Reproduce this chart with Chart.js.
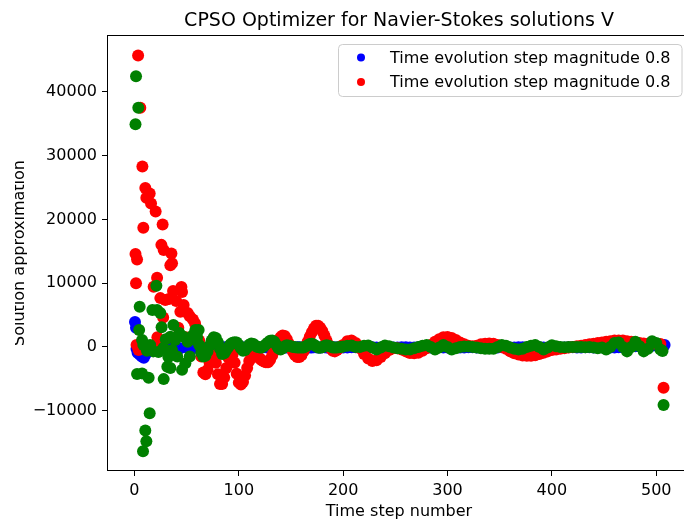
<!DOCTYPE html>
<html>
<head>
<meta charset="utf-8">
<title>CPSO Optimizer</title>
<script src="https://cdn.jsdelivr.net/npm/chart.js@4.4.1/dist/chart.umd.min.js"></script>
<style>
  html, body { margin: 0; padding: 0; background: #fff; overflow: hidden; }
  #wrap { width: 684px; height: 524px; overflow: hidden; position: relative; }
  #chart { display: block; }
</style>
</head>
<body>
<div id="wrap"><canvas id="chart" width="700" height="524"></canvas></div>
<script>
/* chart values */

const chartTitle   = 'CPSO Optimizer for Navier-Stokes solutions V';
const xAxisTitle   = 'Time step number';
const yAxisTitle   = 'Solution approximation';
const seriesLabels = ['Time evolution step magnitude 0.8', 'Time evolution step magnitude 0.8'];

const xTicks = [0, 100, 200, 300, 400, 500];
const yTicks = [-10000, 0, 10000, 20000, 30000, 40000];

// shared time steps of the dense band
const bandX = [
  56, 58, 60, 62, 64, 66, 68, 70, 72, 74,
  76, 78, 80, 82, 84, 86, 88, 90, 92, 94,
  96, 98, 100, 102, 104, 106, 108, 110, 112, 114,
  116, 118, 120, 122, 124, 126, 128, 130, 132, 134,
  136, 138, 140, 142, 144, 146, 148, 150, 152, 154,
  156, 158, 160, 162, 164, 166, 168, 170, 172, 174,
  176, 178, 180, 182, 184, 186, 188, 190, 192, 194,
  196, 198, 200,
  204, 208, 212, 216, 220, 224, 228, 232, 236, 240,
  244, 248, 252, 256, 260, 264, 268, 272, 276, 280,
  284, 288, 292, 296, 300, 304, 308, 312, 316, 320,
  324, 328, 332, 336, 340, 344, 348, 352, 356, 360,
  364, 368, 372, 376, 380, 384, 388, 392, 396, 400,
  404, 408, 412, 416, 420, 424, 428, 432, 436, 440,
  444, 448, 452, 456, 460, 464, 468, 472, 476, 480,
  484, 488, 492, 496, 500, 504
];

const redBand = [
  4300, 3700, 2800, 1000, -1500, -4000, -4300, -3600, -2500, -1400,
  -1300, -2500, -4300, -5800, -5800, -4800, -3300, -1700, -900, -1200,
  -2500, -4200, -5600, -5900, -5500, -4500, -3300, -2200, -1600, -1300,
  -1300, -1500, -1800, -2100, -2300, -2400, -2400, -2000, -1300, -500,
  300, 1000, 1500, 1800, 1700, 1200, 500, -200, -800, -1300,
  -1600, -1600, -1300, -700, 0, 800, 1600, 2300, 2900, 3300,
  3300, 3000, 2500, 1800, 1000, 300, -200, -600, -700, -500,
  -200, 100, 300,
  900, 1000, 600, -200, -1100, -1800, -2200, -2100, -1600, -1000,
  -500, -200, -200, -400, -700, -950, -1000, -900, -600, -200,
  300, 800, 1200, 1500, 1550, 1400, 1100, 700, 400, 200,
  100, 200, 400, 500, 550, 500, 300, 0, -300, -700,
  -1000, -1200, -1350, -1400, -1400, -1300, -1100, -900, -700, -500,
  -400, -300, -200, -100, 0, 100, 200, 300, 400, 500,
  600, 700, 800, 900, 1000, 1000, 1000, 900, 800, 700,
  600, 550, 500, 500, 500, 450
];

const greenBand = [
  1800, 2200, 1500, 300, -900, -1500, -1400, -700, 200, 1000,
  1500, 1400, 700, -300, -1100, -1000, -500, 0, 400, 650,
  750, 700, 300, -200, -600, -500, -100, 350, 550, 450,
  200, 0, -100, -100, 100, 400, 700, 950, 1000, 800,
  300, -200, -400, -200, 100, 250, 200, 100, 0, -50,
  -100, -100, -100, -100, 50, 250, 450, 500, 350, 100,
  -100, -150, -50, 150, 250, 200, 50, -100, -100, -100,
  -50, 0, 50,
  200, 230, 0, 0, 200, 230, -100, -400, -100, 230,
  100, -100, -200, -300, -400, -400, -200, 0, 200, 300,
  0, -400, -100, 300, 0, -400, -200, 0, 50, 50,
  0, -100, -200, -300, -300, -300, 0, 300, 200, -100,
  -300, -400, -300, 0, 200, 300, 0, -400, -100, 250,
  100, 0, -50, 0, 0, 0, 0, -50, 0, -100,
  -200, -100, -400, 0, 600, 700, 0, -700, 0, 800,
  100, -700, -300, 900, 600, -400
];

const blueBand = [
  -200, -150, -100, -50, 0, -100, -200, -150, -100, -50,
  0, -50, -100, -150, -100, -50, -100, -100, -50, -100,
  -150, -100, -50, -50, -100, -100, -50, -50, -100, -100,
  -50, -50, -100, -100, -50, -50, -100, -100, -50, -50,
  -100, -100, -50, -50, -100, -100, -50, -50, -100, -100,
  -50, -50, -100, -100, -50, -50, -100, -100, -50, -50,
  -100, -100, -50, -50, -100, -100, -50, -50, -100, -100,
  -50, -50, -100,
  -100, -50, -50, -100, -100, -50, -50, -100, -100, -50,
  -50, -100, -100, -50, -50, -100, -100, -50, -50, -100,
  -100, -50, -50, -100, -100, -50, -50, -100, -100, -50,
  -50, -100, -100, -50, -50, -100, -100, -50, -50, -100,
  -100, -50, -50, -100, -100, -50, -50, -100, -100, -50,
  -50, -100, -100, -50, -50, -100, -100, -50, -50, -100,
  -100, -50, -50, -100, -100, -50, -50, 0, 50, 100,
  100, 150, 200, 200, 250, 300
];

// scattered early steps and the last outliers
const redEarlyX = [
  1, 1.5, 2, 2.5, 3.5, 4, 5.6, 7.6, 8.5, 10.4,
  11.4, 14.6, 15.9, 18.4, 20.3, 21.7, 22, 24.8, 25, 25.8,
  27, 27.5, 28, 29.6, 33, 34.4, 35.4, 36, 37, 40,
  42, 44, 45, 45.6, 47.1, 49, 51, 53, 507
];
const redEarlyY = [
  14550, 10000, 300, 13700, 45700, -500, 37500, 28300, 18700, 24900,
  23400, 24050, 22500, 9450, 21250, 10850, 1500, 7650, 0, 16000,
  19200, 4600, 15200, 7350, 7500, 12800, 14650, 13100, 8750, 7200,
  3000, 5520, 9400, 8600, 6560, 1500, 5300, 4800, -6400
];

const greenEarlyX = [
  1, 1.5, 2.5, 3.7, 4.5, 5, 7.3, 7.3, 8.2, 8.5,
  10.4, 11.4, 12, 13.6, 14.6, 15, 17.2, 18, 21, 21.7,
  23, 24.8, 26, 27.7, 28, 30, 31.5, 32.5, 34.4, 34.4,
  36, 37.3, 39, 41, 43, 45.6, 47, 48.8, 51, 53,
  55, 58.4, 61.5, 506, 507
];
const greenEarlyY = [
  34900, 42450, -4250, 37500, 2650, 6300, 1100, -4150, -16350, 300,
  -13100, -14800, -600, -4850, -10400, 300, 5800, -700, 9600, 5800,
  -800, 5300, 3100, -150, -5050, 1200, -3100, -1600, -3300, 1600,
  -500, 3450, 1100, -1500, 2200, -3600, 1600, -2550, 800, -1500,
  1200, 2650, 2650, -650, -9100
];

const blueEarlyX = [0.5, 1.5, 2, 3, 5, 7, 9, 11, 14, 20, 26, 32, 38, 44, 50, 508];
const blueEarlyY = [3900, 3000, -300, -900, -1200, -1500, -1700, -1100, -300, -100, 0, -100, -100, -200, -100, 300];

(function () {
  const FONT = 'DejaVu Sans';
  Chart.defaults.font.family = FONT;
  Chart.defaults.font.size   = 16;
  Chart.defaults.color       = '#000';

  const toPoints = (xs, ys) => xs.map((x, i) => ({ x: x, y: ys[i] }));

  const blueData  = toPoints(blueEarlyX, blueEarlyY).concat(toPoints(bandX, blueBand));
  const redData   = toPoints(redEarlyX, redEarlyY).concat(toPoints(bandX, redBand));
  const greenData = toPoints(greenEarlyX, greenEarlyY).concat(toPoints(bandX, greenBand));

  const fmt = v => (v < 0 ? '\u2212' + Math.abs(v) : String(v));

  // spines, titles and the matplotlib-like legend box
  const decor = {
    id: 'decor',
    afterDraw(chart) {
      const c  = chart.ctx;
      const ca = chart.chartArea;
      const midX = (ca.left + ca.right) / 2;

      c.save();
      c.strokeStyle = '#000';
      c.lineWidth   = 1;
      c.strokeRect(ca.left - 0.5, ca.top - 0.5, ca.right - ca.left + 1, ca.bottom - ca.top + 1);

      c.fillStyle    = '#000';
      c.textAlign    = 'center';
      c.textBaseline = 'alphabetic';
      c.font = '19px "' + FONT + '"';
      c.fillText(chartTitle, midX, 26);
      c.font = '16px "' + FONT + '"';
      c.fillText(xAxisTitle, midX, 516);

      // y label, cut on its left side like the original
      c.save();
      c.beginPath();
      c.rect(15, 0, 93, 524);
      c.clip();
      c.translate(23.5, (ca.top + ca.bottom) / 2);
      c.rotate(-Math.PI / 2);
      c.fillText(yAxisTitle, 0, 0);
      c.restore();

      // legend
      const bx = 338.5, by = 44.5, bw = 343.5, bh = 52, r = 4;
      c.beginPath();
      c.roundRect(bx, by, bw, bh, r);
      c.fillStyle = 'rgba(255,255,255,0.8)';
      c.fill();
      c.strokeStyle = '#cccccc';
      c.stroke();

      const items = chart.data.datasets.filter(ds => ds.inLegend);
      items.forEach((ds, i) => {
        const y = 57.5 + i * 24.5;
        c.beginPath();
        c.arc(361, y, 4, 0, Math.PI * 2);
        c.fillStyle = ds.backgroundColor;
        c.fill();
        c.fillStyle    = '#000';
        c.textAlign    = 'left';
        c.textBaseline = 'middle';
        c.fillText(ds.label, 390, y + 1);
      });
      c.restore();
    },
  };

  const tickGrid = {
    display:         true,
    drawOnChartArea: false,
    drawTicks:       true,
    tickLength:      6,
    tickColor:       '#000',
    tickWidth:       1,
  };

  new Chart(document.getElementById('chart'), {
    type: 'scatter',
    data: {
      datasets: [
        { label: seriesLabels[0], data: blueData,  backgroundColor: '#0000ff', order: 3, inLegend: true },
        { label: seriesLabels[1], data: redData,   backgroundColor: '#ff0000', order: 2, inLegend: true },
        { label: '',              data: greenData, backgroundColor: '#008000', order: 1, inLegend: false },
      ],
    },
    options: {
      responsive: false,
      animation:  false,
      events:     [],
      layout: { padding: { top: 36, right: 10, bottom: 0, left: 0 } },
      elements: { point: { radius: 6, hoverRadius: 6, borderWidth: 0 } },
      plugins: {
        legend:  { display: false },
        tooltip: { enabled: false },
        title:   { display: false },
      },
      scales: {
        x: {
          type: 'linear',
          min:  -25.35,
          max:  532.35,
          afterBuildTicks: s => { s.ticks = xTicks.map(v => ({ value: v })); },
          afterFit:        s => { s.height = 54; },
          ticks:  { padding: 5, maxRotation: 0, callback: fmt },
          grid:   tickGrid,
          border: { display: false },
        },
        y: {
          type: 'linear',
          min:  -19300,
          max:  48750,
          afterBuildTicks: s => { s.ticks = yTicks.map(v => ({ value: v })); },
          afterFit:        s => { s.width = 108; },
          ticks:  { padding: 5, callback: fmt },
          grid:   tickGrid,
          border: { display: false },
        },
      },
    },
    plugins: [decor],
  });
})();
</script>
</body>
</html>
